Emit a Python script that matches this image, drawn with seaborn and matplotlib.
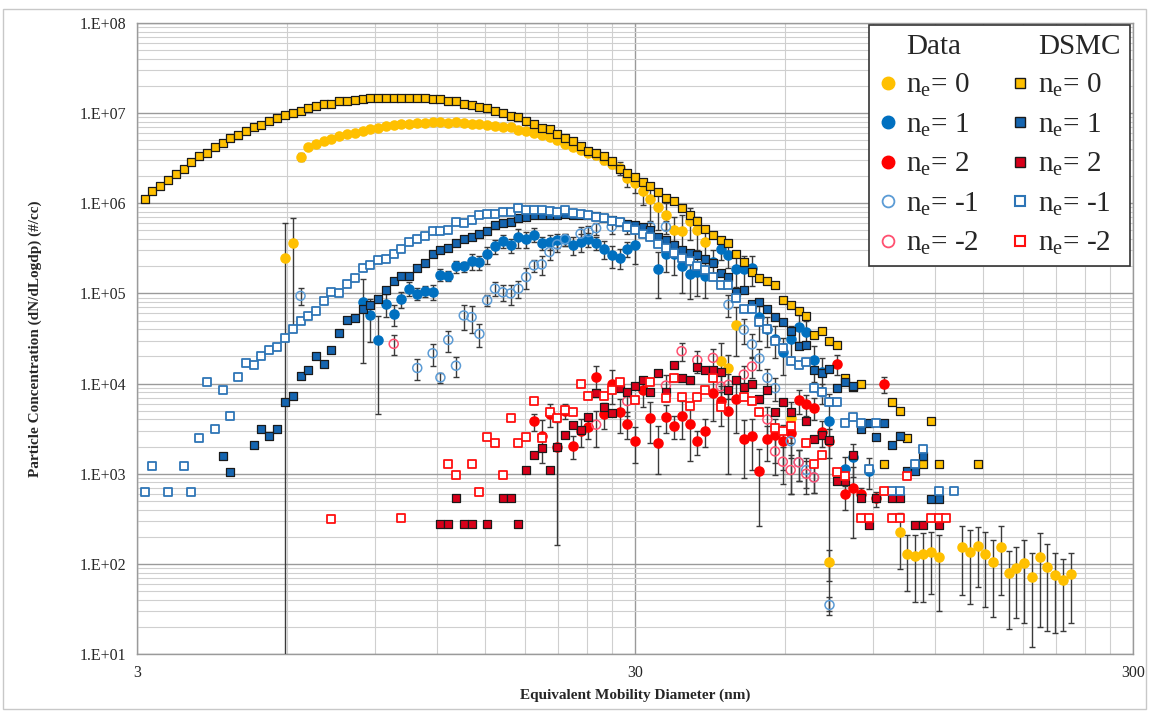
import matplotlib
matplotlib.use("Agg")
import matplotlib.pyplot as plt
import seaborn as sns
import pandas as pd
from matplotlib.lines import Line2D
from matplotlib.patches import Rectangle
from matplotlib.ticker import FixedLocator, FixedFormatter, NullFormatter

# SMPS channel diameters (nm), 64 channels per decade starting at 3 nm
diameter_nm = [
    3.00, 3.11, 3.22, 3.34, 3.46, 3.59, 3.72, 3.86, 4.00, 4.15,
    4.30, 4.46, 4.62, 4.79, 4.96, 5.15, 5.33, 5.53, 5.73, 5.94,
    6.16, 6.39, 6.62, 6.86, 7.11, 7.37, 7.64, 7.92, 8.22, 8.52,
    8.83, 9.15, 9.49, 9.83, 10.19, 10.57, 10.96, 11.36, 11.77, 12.20,
    12.65, 13.11, 13.59, 14.09, 14.61, 15.14, 15.70, 16.27, 16.87, 17.49,
    18.13, 18.79, 19.48, 20.20, 20.93, 21.70, 22.50, 23.32, 24.18, 25.06,
    25.98, 26.93, 27.92, 28.94, 30.0, 31.1, 32.2, 33.4, 34.6, 35.9,
    37.2, 38.6, 40.0, 41.5, 43.0, 44.6, 46.2, 47.9, 49.6, 51.5,
    53.3, 55.3, 57.3, 59.4, 61.6, 63.9, 66.2, 68.6, 71.1, 73.7,
    76.4, 79.2, 82.2, 85.2, 88.3, 91.5, 94.9, 98.3, 101.9, 105.7,
    109.6, 113.6, 117.7, 122.0, 126.5, 131.1, 135.9, 140.9, 146.1, 151.4,
    157.0, 162.7, 168.7, 174.9, 181.3, 187.9, 194.8, 201.9, 209.3, 217.0,
    225.0, 232.5,
]

# ---- measured distributions (first channel index, dN/dlogDp per channel, error) ----
data_q0_start = 19
data_q0 = [
    2.5e5, 3.6e5, 3.27e6, 4.23e6, 4.60e6, 4.92e6, 5.22e6, 5.55e6, 5.85e6, 6.10e6,
    6.37e6, 6.76e6, 6.93e6, 7.18e6, 7.36e6, 7.67e6, 7.67e6, 7.74e6, 7.74e6, 7.94e6,
    7.94e6, 7.87e6, 7.94e6, 7.82e6, 7.67e6, 7.55e6, 7.48e6, 7.18e6, 7.05e6, 7.05e6,
    6.47e6, 6.31e6, 6.04e6, 5.74e6, 5.46e6, 5.01e6, 4.60e6, 4.23e6, 3.94e6, 3.62e6,
    3.41e6, 3.05e6, 2.76e6, 2.45e6, 1.93e6, 1.70e6, 1.37e6, 1.11e6, 9.0e5, 7.5e5,
    5.0e5, 4.9e5, 6.4e5, 5.0e5, 3.7e5, None, 1.8e4, 1.5e4, 4.5e4, None,
    None, None, None, None, None, 4.2e3, None, None, None, None,
    1.04e2, None, None, None, None, None, None, None, None, 227,
    130, 123, 128, 136, 120, None, None, 155, 136, 156,
    128, 106, 155, 79, 90, 102, 72, 120, 93, 75,
    66, 77,
]
data_q0_err = [
    3.5e5, 3.2e5, 3.0e5, 2.5e5, 2.2e5, 2.0e5, 2.0e5, 2.0e5, 2.0e5, 2.0e5,
    2.0e5, 2.0e5, 2.5e5, 2.5e5, 2.5e5, 2.5e5, 2.5e5, 2.5e5, 2.5e5, 2.5e5,
    2.5e5, 2.5e5, 2.5e5, 2.5e5, 2.5e5, 2.5e5, 2.5e5, 2.5e5, 2.5e5, 2.5e5,
    3.0e5, 3.0e5, 3.0e5, 3.0e5, 3.0e5, 3.0e5, 3.0e5, 3.0e5, 3.0e5, 3.0e5,
    3.0e5, 3.0e5, 3.0e5, 4.0e5, 4.0e5, 4.0e5, 4.0e5, 5.0e5, 4.0e5, 2.5e5,
    2.0e5, 2.5e5, 2.5e5, 2.0e5, 1.5e5, None, 1.0e4, 6.0e3, 2.5e4, None,
    None, None, None, None, None, 2.0e3, None, None, None, None,
    40, None, None, None, None, None, None, None, None, 140,
    80, 85, 90, 90, 90, None, None, 110, 100, 100,
    95, 80, 110, 60, 65, 80, 60, 100, 75, 58,
    48, 55,
]

data_q1_start = 29
data_q1 = [
    8.0e4, 5.8e4, 3.06e4, 7.7e4, 5.9e4, 8.6e4, 1.13e5, 9.9e4, 1.06e5, 1.05e5,
    1.61e5, 1.58e5, 2.0e5, 2.0e5, 2.29e5, 2.23e5, 2.71e5, 3.33e5, 3.81e5, 3.41e5,
    4.23e5, 3.98e5, 4.49e5, 3.62e5, 3.72e5, 3.88e5, 3.98e5, 3.48e5, 3.72e5, 3.98e5,
    3.62e5, 3.13e5, 2.64e5, 2.49e5, 3.13e5, 3.41e5, None, None, 1.88e5, 2.71e5,
    2.71e5, 2.0e5, 1.66e5, 1.73e5, 1.58e5, 2.23e5, 3.13e5, 2.64e5, 1.88e5, 1.88e5,
    1.9e5, 5.46e4, 4.05e4, 3.13e4, 2.23e4, 3.13e4, 4.23e4, 3.78e4, 1.83e4, 1.34e4,
    3.88e3, None, 1.13e3, 1.52e3, None, 1.08e3,
]
data_q1_err = [
    6.3e4, 2.9e4, 2.6e4, 2.2e4, 1.5e4, 1.7e4, 2.0e4, 1.5e4, 1.5e4, 2.0e4,
    2.5e4, 2.0e4, 3.0e4, 2.5e4, 4.5e4, 4.0e4, 6.0e4, 6.0e4, 6.0e4, 6.0e4,
    1.0e5, 8.0e4, 8.0e4, 6.0e4, 7.0e4, 7.0e4, 6.0e4, 8.0e4, 8.0e4, 7.0e4,
    6.0e4, 7.0e4, 7.0e4, 6.0e4, 6.0e4, 1.3e5, None, None, 1.0e5, 1.0e5,
    1.1e5, 1.0e5, 8.0e4, 8.0e4, 7.0e4, 8.0e4, 8.0e4, 7.0e4, 7.0e4, 7.0e4,
    7.0e4, 2.5e4, 1.5e4, 1.2e4, 1.0e4, 1.2e4, 1.5e4, 1.2e4, 8.0e3, 6.0e3,
    3.85e3, None, 4.0e2, 6.0e2, None, 4.0e2,
]

data_q2_start = 51
data_q2 = [
    3.8e3, 2.6e3, 4.6e3, 1.96e3, 5.0e3, 2.05e3, 3.0e3, 3.3e3, 1.17e4, 4.6e3,
    1.0e4, 4.8e3, 3.6e3, 2.3e3, 8.5e3, 4.2e3, 2.2e3, 4.3e3, 3.4e3, 4.4e3,
    3.6e3, 2.3e3, 3.0e3, 7.8e3, 6.4e3, 5.0e3, 6.8e3, 2.4e3, 2.6e3, 1.06e3,
    2.4e3, 2.7e3, 2.3e3, 2.8e3, 6.6e3, 5.9e3, 5.4e3, 2.9e3, 2.3e3, 1.66e4,
    594, 694, 594, None, 532, 9.8e3,
]
data_q2_err = [
    8.0e2, 1.3e3, 1.3e3, 1.8e3, 1.0e3, 6.0e2, 1.0e3, 9.0e2, 4.0e3, 1.5e3,
    4.0e3, 2.0e3, 1.2e3, 1.0e3, 3.0e3, 2.0e3, 1.2e3, 1.5e3, 1.0e3, 2.0e3,
    2.2e3, 7.0e2, 1.0e3, 4.0e3, 3.0e3, 4.0e3, 4.0e3, 1.5e3, 1.5e3, 8.0e2,
    1.0e3, 1.4e3, 1.2e3, 2.2e3, 2.0e3, 1.5e3, 1.5e3, 9.0e2, 8.0e2, 4.0e3,
    2.0e2, 5.0e2, 1.0e2, None, 1.0e2, 2.0e3,
]

data_qm1_start = 21
data_qm1 = [
    9.4e4, None, None, None, None, None, None, None, None, None,
    None, None, None, None, None, 1.49e4, None, 2.17e4, 1.17e4, 3.05e4,
    1.58e4, 5.7e4, 5.46e4, 3.56e4, 8.4e4, 1.13e5, 1.03e5, 1.0e5, 1.13e5, 1.52e5,
    2.05e5, 2.1e5, 2.88e5, 3.5e5, 4.0e5, None, 4.6e5, 4.8e5, 5.3e5, None,
    5.5e5, None, 5.5e5, None, None, 5.5e5, None, 5.5e5, None, None,
    None, None, None, None, None, 7.5e4, None, 3.96e4, 2.72e4, 1.9e4,
    1.16e4, 8.9e3, None, 2.3e3, 1.34e3, 1.1e3, 910, 8.0e3, 35,
]
data_qm1_err = [
    2.0e4, None, None, None, None, None, None, None, None, None,
    None, None, None, None, None, 4.0e3, None, 6.0e3, 1.5e3, 8.0e3,
    4.0e3, 1.8e4, 1.8e4, 1.0e4, 1.2e4, 2.0e4, 2.0e4, 2.5e4, 2.5e4, 4.0e4,
    3.0e4, 5.0e4, 5.0e4, 6.0e4, 6.0e4, None, 8.0e4, 8.0e4, 8.0e4, None,
    9.0e4, None, 9.0e4, None, None, 9.0e4, None, 9.0e4, None, None,
    None, None, None, None, None, 2.0e4, None, 1.2e4, 8.0e3, 5.0e3,
    3.0e3, 2.5e3, None, 8.0e2, 5.0e2, 4.0e2, 3.0e2, 2.0e3, 8,
]

data_qm2_start = 33
data_qm2 = [
    2.76e4, None, None, None, None, None, None, None, None, None,
    None, None, None, None, None, None, None, None, None, None,
    None, None, None, None, None, None, 3.5e3, None, None, None,
    6.4e3, None, None, None, None, 9.5e3, None, 2.29e4, None, 1.82e4,
    None, 1.93e4, 9.3e3, 9.7e3, None, 1.26e4, 1.55e4, None, 4.0e3, 1.77e3,
    1.36e3, 1.1e3, 1.34e3, 1.0e3, 910,
]
data_qm2_err = [
    7.0e3, None, None, None, None, None, None, None, None, None,
    None, None, None, None, None, None, None, None, None, None,
    None, None, None, None, None, None, 1.5e3, None, None, None,
    2.0e3, None, None, None, None, 3.0e3, None, 5.0e3, None, 5.0e3,
    None, 5.0e3, 3.0e3, 3.0e3, None, 3.0e3, 4.0e3, None, 1.5e3, 8.0e2,
    6.0e2, 5.0e2, 5.0e2, 4.0e2, 3.0e2,
]

# ---- DSMC simulated distributions (first channel index, dN/dlogDp per channel) ----
dsmc_q0_start = 1
dsmc_q0 = [
    1.11e6, 1.37e6, 1.55e6, 1.80e6, 2.10e6, 2.40e6, 2.88e6, 3.36e6, 3.62e6, 4.19e6,
    4.68e6, 5.27e6, 5.79e6, 6.37e6, 6.98e6, 7.41e6, 8.22e6, 8.87e6, 9.51e6, 1.00e7,
    1.06e7, 1.14e7, 1.20e7, 1.26e7, 1.27e7, 1.35e7, 1.37e7, 1.41e7, 1.43e7, 1.46e7,
    1.47e7, 1.47e7, 1.48e7, 1.48e7, 1.48e7, 1.47e7, 1.46e7, 1.42e7, 1.42e7, 1.35e7,
    1.38e7, 1.28e7, 1.23e7, 1.17e7, 1.13e7, 1.06e7, 1.01e7, 9.33e6, 9.18e6, 8.22e6,
    7.55e6, 6.87e6, 6.59e6, 5.94e6, 5.37e6, 4.97e6, 4.34e6, 3.85e6, 3.60e6, 3.33e6,
    2.93e6, 2.43e6, 2.17e6, 1.96e6, 1.74e6, 1.57e6, 1.32e6, 1.16e6, 1.07e6, 8.79e5,
    7.48e5, 6.37e5, 5.24e5, 4.49e5, 3.92e5, 3.60e5, 2.71e5, 2.21e5, 1.75e5, 1.48e5,
    1.37e5, 1.24e5, 8.43e4, 7.36e4, 6.37e4, 5.60e4, 3.44e4, 3.85e4, 2.95e4, 2.67e4,
    1.15e4, 9.1e3, 1.0e4, None, None, 1.27e3, 6.3e3, 5.0e3, 2.5e3, 1.27e3,
    1.27e3, 3.8e3, 1.27e3, None, None, None, None, 1.27e3,
]

dsmc_q1_start = 11
dsmc_q1 = [
    1.56e3, 1.04e3, None, None, 2.08e3, 3.13e3, 2.60e3, 3.13e3, 6.21e3, 7.23e3,
    1.20e4, 1.41e4, 2.00e4, 1.67e4, 2.33e4, 3.66e4, 5.09e4, 5.32e4, 6.76e4, 7.36e4,
    8.73e4, 1.10e5, 1.36e5, 1.55e5, 1.57e5, 1.93e5, 2.17e5, 2.71e5, 3.05e5, 3.21e5,
    3.62e5, 3.98e5, 4.23e5, 4.60e5, 4.93e5, 5.79e5, 6.04e5, 6.21e5, 6.87e5, 7.05e5,
    7.4e5, 7.4e5, 7.4e5, 7.36e5, 7.6e5, 7.4e5, 7.4e5, 7.36e5, 7.18e5, 6.93e5,
    6.47e5, 6.21e5, 5.94e5, 5.74e5, 5.46e5, 5.01e5, 4.23e5, 3.88e5, 3.41e5, 3.0e5,
    2.81e5, 2.64e5, 2.4e5, 2.17e5, 1.70e5, 1.52e5, 1.05e5, 1.10e5, 7.67e4, 8.02e4,
    6.64e4, 5.55e4, 4.80e4, 3.88e4, 2.60e4, 2.67e4, 1.41e4, 1.32e4, 1.46e4, 8.9e3,
    1.04e4, 9.5e3, 3.13e3, 3.69e3, 2.58e3, 3.69e3, 2.08e3, 2.64e3, 1.07e3, 1.08e3,
    1.58e3, 519, 519,
]

dsmc_q2_start = 39
dsmc_q2 = [
    276, 276, 532, 276, 276, None, 276, None, 532, 532,
    276, 1.1e3, 1.61e3, 1.93e3, 1.1e3, 1.96e3, 2.69e3, 3.5e3, 3.05e3, 4.3e3,
    7.87e3, 5.46e3, 4.68e3, 8.95e3, 8.0e3, 9.5e3, 1.1e4, 8.0e3, 1.3e4, 8.0e3,
    1.6e4, 1.15e4, 1.1e4, 1.52e4, 1.42e4, 1.42e4, 1.34e4, 8.4e3, 1.1e4, 9.1e3,
    9.8e3, 6.8e3, 8.4e3, 4.9e3, 6.2e3, 4.9e3, None, 3.8e3, 2.4e3, 2.7e3,
    2.37e3, 836, 836, 1.63e3, 537, 271, 537, None, 537, 537,
    None, 271, 271, None, 271,
]

dsmc_qm1_start = 1
dsmc_qm1 = [
    621, 1.23e3, None, 621, None, 1.23e3, 621, 2.49e3, 1.04e4, 3.11e3,
    8.57e3, 4.34e3, 1.17e4, 1.68e4, 1.60e4, 2.01e4, 2.37e4, 2.54e4, 3.24e4, 4.02e4,
    5.01e4, 5.65e4, 6.47e4, 8.22e4, 1.04e5, 1.01e5, 1.26e5, 1.48e5, 1.91e5, 2.08e5,
    2.33e5, 2.43e5, 2.76e5, 3.13e5, 3.69e5, 4.05e5, 4.30e5, 4.93e5, 4.93e5, 5.09e5,
    6.21e5, 6.10e5, 6.59e5, 7.36e5, 7.67e5, 7.67e5, 8.02e5, 8.02e5, 8.95e5, 8.36e5,
    8.5e5, 8.5e5, 8.3e5, 8.1e5, 8.5e5, 7.9e5, 7.6e5, 7.4e5, 7.1e5, 6.8e5,
    6.3e5, 6.2e5, 5.5e5, 5.0e5, 4.6e5, 4.2e5, 3.5e5, 3.2e5, 2.8e5, 2.5e5,
    2.27e5, 2.0e5, 1.8e5, 1.52e5, 1.23e5, 1.23e5, 8.87e4, 6.76e4, 6.76e4, 4.8e4,
    4.0e4, 3.0e4, 2.5e4, 1.8e4, 1.61e4, 1.75e4, 8.9e3, 8.0e3, 6.21e3, 6.21e3,
    3.66e3, 4.30e3, 3.66e3, 1.13e3, 3.66e3, None, 637, 637, None, 1.28e3,
    1.88e3, None, 637, None, 637,
]

dsmc_qm2_start = 25
dsmc_qm2 = [
    316, None, None, None, None, None, None, None, None, 319,
    None, None, None, None, None, 1.28e3, 957, None, 1.28e3, 631,
    2.54e3, 2.21e3, 957, 4.12e3, 2.21e3, 2.54e3, 6.37e3, 2.5e3, 4.8e3, 4.12e3,
    5.09e3, 4.8e3, 9.9e3, 7.3e3, None, 7.3e3, 8.5e3, 1.04e4, None, 6.6e3,
    None, 1.04e4, None, 7.0e3, 1.15e4, 7.1e3, 5.7e3, 7.1e3, 8.4e3, 1.15e4,
    5.5e3, None, None, 7.1e3, 6.4e3, 4.8e3, None, 3.2e3, 3.0e3, 3.4e3,
    None, 2.2e3, 1.28e3, 1.61e3, None, 1.04e3, 950, None, 319, 319,
    None, 637, 319, 319, 950, None, None, 319, 319, 319,
]

charge_labels = ["0", "1", "2", "-1", "-2"]

GOLD = "#FFC000"
BLUE = "#0070C0"
RED = "#FF0000"
EDGE = "#1a1a1a"


def to_frame(start, values, errors=None):
    rows = []
    for k, v in enumerate(values):
        if v is None:
            continue
        e = errors[k] if errors is not None else None
        rows.append({"d": diameter_nm[start + k], "n": v, "err": 0.0 if e is None else e})
    return pd.DataFrame(rows)


sns.set_theme(style="white")
plt.rcParams["font.family"] = ["Liberation Serif", "DejaVu Serif"]
plt.rcParams["mathtext.fontset"] = "custom"
plt.rcParams["mathtext.rm"] = "Liberation Serif"
plt.rcParams["mathtext.it"] = "Liberation Serif:italic"

fig = plt.figure(figsize=(11.51, 7.13), dpi=100)
fig.patch.set_facecolor("white")
fig.add_artist(Rectangle((0.003, 0.006), 0.993, 0.981, transform=fig.transFigure,
                         fill=False, edgecolor="#c8c8c8", linewidth=1.0))

ax = fig.add_axes([0.119, 0.0827, 0.8655, 0.885])
ax.set_xscale("log")
ax.set_yscale("log")
ax.set_xlim(3, 300)
ax.set_ylim(10, 1e8)

# Excel-style gridlines
ax.xaxis.set_major_locator(FixedLocator([3, 30, 300]))
ax.xaxis.set_major_formatter(FixedFormatter(["3", "30", "300"]))
ax.xaxis.set_minor_locator(FixedLocator([6, 9, 12, 15, 18, 21, 24, 27,
                                         60, 90, 120, 150, 180, 210, 240, 270]))
ax.xaxis.set_minor_formatter(NullFormatter())
ydec = [1e1, 1e2, 1e3, 1e4, 1e5, 1e6, 1e7, 1e8]
ax.yaxis.set_major_locator(FixedLocator(ydec))
ax.yaxis.set_major_formatter(FixedFormatter(["1.E+01", "1.E+02", "1.E+03", "1.E+04",
                                             "1.E+05", "1.E+06", "1.E+07", "1.E+08"]))
ax.yaxis.set_minor_locator(FixedLocator([m * d for d in ydec[:-1] for m in range(2, 10)]))
ax.yaxis.set_minor_formatter(NullFormatter())
ax.grid(True, which="major", color="#9a9a9a", linewidth=1.0, zorder=0)
ax.grid(True, which="minor", color="#cfcfcf", linewidth=0.8, zorder=0)
ax.set_axisbelow(True)
ax.tick_params(axis="both", which="major", length=5, width=0.8, color="#888888",
               labelsize=11.5, pad=3, direction="out")
ax.tick_params(axis="both", which="minor", length=0)
for side in ["left", "bottom", "right", "top"]:
    ax.spines[side].set_color("#9a9a9a")
    ax.spines[side].set_linewidth(1.0)

# measured data with error bars
measured = [
    (data_q0_start, data_q0, data_q0_err, dict(color=GOLD, edgecolor=GOLD)),
    (data_q1_start, data_q1, data_q1_err, dict(color=BLUE, edgecolor=BLUE)),
    (data_q2_start, data_q2, data_q2_err, dict(color=RED, edgecolor=RED)),
    (data_qm1_start, data_qm1, data_qm1_err, dict(color="white", facecolor="none", edgecolor="#5B9BD5")),
    (data_qm2_start, data_qm2, data_qm2_err, dict(color="white", facecolor="none", edgecolor="#FF5070")),
]
for start, vals, errs, style in measured:
    df = to_frame(start, vals, errs)
    ax.errorbar(df["d"], df["n"], yerr=df["err"], fmt="none", ecolor="#3a3a3a",
                elinewidth=1.0, capsize=2.4, capthick=1.0, zorder=3)
    sns.scatterplot(data=df, x="d", y="n", ax=ax, marker="o", s=42, linewidth=1.1,
                    legend=False, zorder=4, **style)

# DSMC results
simulated = [
    (dsmc_q0_start, dsmc_q0, dict(color=GOLD, edgecolor=EDGE, linewidth=0.9)),
    (dsmc_q1_start, dsmc_q1, dict(color="#1565B0", edgecolor=EDGE, linewidth=0.9)),
    (dsmc_q2_start, dsmc_q2, dict(color="#D8001A", edgecolor=EDGE, linewidth=0.9)),
    (dsmc_qm1_start, dsmc_qm1, dict(color="white", edgecolor="#2E75B6", linewidth=1.3)),
    (dsmc_qm2_start, dsmc_qm2, dict(color="white", edgecolor="#FF1010", linewidth=1.3)),
]
for start, vals, style in simulated:
    df = to_frame(start, vals)
    sns.scatterplot(data=df, x="d", y="n", ax=ax, marker="s", s=27, legend=False,
                    zorder=5, **style)

ax.set_xlabel("Equivalent Mobility Diameter (nm)", fontsize=11, fontweight="bold", labelpad=5)
ax.set_ylabel("Particle Concentration (dN/dLogdp) (#/cc)", fontsize=11, fontweight="bold", labelpad=27)

# two-column legend: measured (circles) and DSMC (squares)
blank = Line2D([], [], linestyle="none", marker=None)
data_handles = [
    Line2D([], [], linestyle="none", marker="o", markersize=9, markerfacecolor=GOLD, markeredgecolor=GOLD),
    Line2D([], [], linestyle="none", marker="o", markersize=9, markerfacecolor=BLUE, markeredgecolor=BLUE),
    Line2D([], [], linestyle="none", marker="o", markersize=9, markerfacecolor=RED, markeredgecolor=RED),
    Line2D([], [], linestyle="none", marker="o", markersize=8.5, markerfacecolor="white",
           markeredgecolor="#5B9BD5", markeredgewidth=1.3),
    Line2D([], [], linestyle="none", marker="o", markersize=8.5, markerfacecolor="white",
           markeredgecolor="#FF5070", markeredgewidth=1.3),
]
dsmc_handles = [
    Line2D([], [], linestyle="none", marker="s", markersize=7.5, markerfacecolor=GOLD, markeredgecolor=EDGE),
    Line2D([], [], linestyle="none", marker="s", markersize=7.5, markerfacecolor="#1565B0", markeredgecolor=EDGE),
    Line2D([], [], linestyle="none", marker="s", markersize=7.5, markerfacecolor="#D8001A", markeredgecolor=EDGE),
    Line2D([], [], linestyle="none", marker="s", markersize=7.5, markerfacecolor="white",
           markeredgecolor="#2E75B6", markeredgewidth=1.5),
    Line2D([], [], linestyle="none", marker="s", markersize=7.5, markerfacecolor="white",
           markeredgecolor="#FF1010", markeredgewidth=1.5),
]
entry_labels = [r"n$_\mathrm{e}$= " + q for q in charge_labels]
handles = [blank] + data_handles + [blank] + dsmc_handles
labels = ["Data"] + entry_labels + ["DSMC"] + entry_labels
leg = ax.legend(handles, labels, ncol=2, loc="upper right", bbox_to_anchor=(0.9965, 0.9975),
                fontsize=21, frameon=True, fancybox=False, edgecolor="#333333",
                framealpha=1.0, handlelength=0.65, handletextpad=0.3, columnspacing=1.1,
                labelspacing=0.42, borderpad=0.3, borderaxespad=0.0)
leg.get_frame().set_linewidth(1.2)
leg.set_zorder(10)

fig.savefig("out.png", dpi=100, facecolor="white")
